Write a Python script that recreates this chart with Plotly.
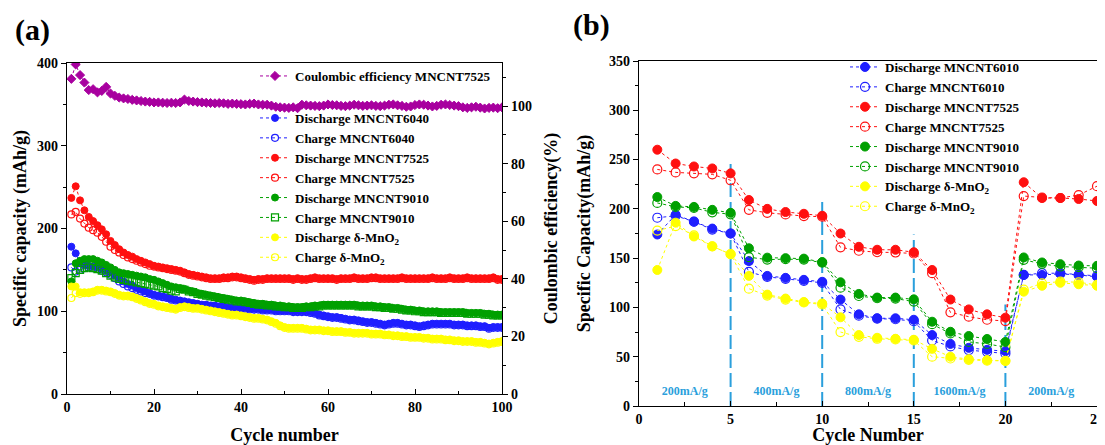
import plotly.graph_objects as go

# ---------------- Panel (a) data: 100 cycles ----------------
cycles_a = list(range(1, 101))

dis_6040 = [178,170,158,156,155,154,153,151,149,147,143,140,136,133,131,128,126,124,122,120,
            119,118,117,115,114,113,112,111,110,109,108,108,107,107,106,106,105,105,104,104,
            104,103,103,103,102,102,102,101,101,101,101,100,100,100,100,99,98,96,95,94,
            93,93,92,91,90,90,89,88,87,87,86,85,84,85,86,86,85,84,84,83,
            82,83,84,85,85,85,85,85,84,84,84,83,83,83,82,82,80,81,81,81]
chg_6040 = [153,148,150,152,153,152,151,149,147,144,140,136,133,130,128,126,124,122,121,119,
            118,117,116,114,113,112,111,110,109,108,107,107,106,106,105,105,104,104,103,103,
            103,102,102,102,101,101,101,100,100,100,100,99,99,99,99,98,97,95,94,93,
            92,92,91,90,89,89,88,87,86,86,85,84,83,84,85,85,84,83,83,82,
            81,82,83,84,84,84,84,84,83,83,83,82,82,82,81,81,79,80,80,80]
dis_7525 = [237,251,234,222,214,209,204,199,193,185,180,175,171,168,166,163,161,159,157,155,
            154,153,152,151,150,149,147,145,144,143,142,141,140,140,140,141,141,142,142,141,
            140,139,138,139,139,140,140,140,140,140,140,139,140,139,139,140,141,140,140,140,
            140,139,140,140,140,141,140,140,140,141,141,140,140,140,140,140,141,140,140,140,
            140,140,140,141,140,140,140,141,140,140,140,141,140,140,140,140,140,141,139,139]
chg_7525 = [217,220,212,206,201,198,195,190,184,178,174,171,168,165,163,161,159,157,155,154,
            153,152,151,150,149,148,146,144,143,142,141,140,139,139,139,140,140,141,141,140,
            139,138,137,138,138,139,139,139,139,139,139,138,139,138,138,139,140,139,139,139,
            139,138,139,139,139,140,139,139,139,140,140,139,139,139,139,139,140,139,139,139,
            139,139,139,140,139,139,139,140,139,139,139,140,139,139,139,139,139,140,138,138]
dis_9010 = [136,158,161,163,163,163,161,159,156,153,150,147,146,145,144,143,142,141,139,138,
            136,134,132,130,129,128,127,125,124,122,121,120,119,118,117,116,115,114,113,113,
            112,111,110,109,109,108,108,107,107,106,106,105,105,105,106,106,107,107,108,108,
            108,108,108,108,108,108,107,107,107,107,106,106,105,105,104,104,103,102,102,101,
            101,100,100,100,100,99,99,99,99,99,99,98,98,98,98,97,97,96,96,96]
chg_9010 = [140,146,150,152,153,152,151,149,146,143,141,139,138,137,136,135,134,133,132,131,
            130,128,127,125,124,127,126,124,123,121,120,119,118,117,116,115,114,113,112,112,
            111,110,109,108,108,107,107,106,106,105,105,104,104,104,105,105,106,106,107,107,
            107,107,107,107,107,107,106,106,106,106,105,105,104,104,103,103,102,101,101,100,
            100,99,99,99,99,98,98,98,98,98,98,97,97,97,97,96,96,95,95,95]
dis_mno2 = [130,130,123,123,123,124,126,126,125,124,122,120,119,119,118,116,114,112,110,109,
            107,106,105,104,103,105,106,105,104,104,103,102,101,100,99,98,97,96,96,95,
            94,93,92,92,91,90,88,86,83,81,80,80,80,80,79,78,78,78,77,77,
            76,76,76,75,75,74,74,74,74,73,73,73,72,72,71,71,70,70,69,69,
            69,68,68,67,67,67,66,66,65,65,64,64,64,63,63,62,61,62,63,64]
chg_mno2 = [116,122,121,122,122,123,125,125,124,123,121,119,118,118,117,115,113,111,109,108,
            106,105,104,103,102,104,105,104,103,103,102,101,100,99,98,97,96,95,95,94,
            93,92,91,91,90,89,87,85,82,80,79,79,79,79,78,77,77,77,76,76,
            75,75,75,74,74,73,73,73,73,72,72,72,71,71,70,70,69,69,68,68,
            68,67,67,66,66,66,65,65,64,64,63,63,63,62,62,61,60,61,62,63]
ce_7525 = [109.5,114.5,110.8,108.2,105.6,105.9,104.8,105.3,106.7,104.4,103.6,103.0,102.7,102.5,102.2,102.0,101.8,101.6,101.5,101.3,
           101.3,101.2,101.1,101.2,101.1,101.3,102.3,101.8,101.6,101.4,101.3,101.2,101.1,101.0,101.1,101.0,100.8,100.9,100.8,100.7,
           100.6,100.8,100.9,100.6,100.5,100.5,100.2,99.8,99.6,99.5,99.4,99.6,99.3,100.5,100.3,100.2,100.1,100.0,100.2,100.6,
           100.4,100.3,100.1,100.0,100.2,100.5,100.3,100.1,100.2,100.3,100.1,100.0,100.2,100.5,100.6,100.3,100.1,99.8,99.9,100.4,
           100.6,100.5,100.2,99.9,100.1,100.5,100.6,100.4,100.2,100.0,99.6,99.4,99.6,99.8,99.5,99.2,99.4,99.5,99.3,99.6]

# ---------------- Panel (b) data: rate test ----------------
cycles_b = list(range(1, 26))
b_dis_6010 = [174,194,187,180,175,147,132,130,128,126,108,93,89,89,87.5,72,63,59,57,55.6,133,133,134,133,131]
b_chg_6010 = [191,193,187,179,175,136,131,129,127,125,98,91.6,88.6,88,86,66.5,60.4,56.7,55,53.3,133,134.7,134.7,133,132]
b_dis_7525 = [260,246,243,241,236,209,200,196.8,195,193,175,161.5,158.5,158.5,156,138,108,98,93,89.6,227,211,211,210,208]
b_chg_7525 = [240,237,236,235,229,199,196,194.4,192.7,192,161,157.5,156,155.7,154.7,134.7,95,90.6,87.5,86.2,213,211.5,211,214,223]
b_dis_9010 = [212,203,202,199,196,160,150.5,150,149.5,146,125.5,113.7,110,110,108.2,85.5,75.3,71,68,65,150.7,145.6,143.9,142.5,142.2]
b_chg_9010 = [206,202,201,196.5,194.5,151,148.5,149,148.5,145.5,120,111.6,109.3,109,105.9,83,73.6,65,63,59.7,148.3,144.2,141.5,140.8,139.8]
b_dis_mno2 = [138,186,172,162,154,132,113,109,105.5,104,90,72,69.2,68.2,67.2,58,50,47.5,46.5,45.8,116,122,125,123.5,122]
b_chg_mno2 = [178,182.5,173,162,154,119,112,108,105,103,75,70.2,68.2,67.5,66.5,50,48.2,46.8,46,45.8,118,124.5,126.2,125.5,122.8]

rate_bounds = [5, 10, 15, 20]
rate_bound_tops = [248, 209, 174, 103]
rate_labels = ["200mA/g", "400mA/g", "800mA/g", "1600mA/g", "200mA/g"]
rate_label_x = [2.5, 7.5, 12.5, 17.5, 22.5]
rate_label_y = [14, 14, 14, 14, 14]

# ---------------- styling ----------------
FONT = "Liberation Serif"
BLUE, RED, GREEN, YELLOW, MAG = "#1f1fff", "#ff1010", "#00a000", "#ffff00", "#a8009f"
RATE_C = "#2a9fdc"

fig = go.Figure()

def add(x, y, name, color, filled, xa, ya, legend, size, symbol="circle"):
    if filled:
        mk = dict(symbol=symbol, size=size, color=color, line=dict(color=color, width=1))
    else:
        mk = dict(symbol=symbol + "-open", size=size, color=color, line=dict(width=1.2))
    fig.add_trace(go.Scatter(x=x, y=y, name=name, mode="lines+markers",
                             line=dict(color=color, width=1, dash="dot"),
                             marker=mk, xaxis=xa, yaxis=ya, legend=legend))

# panel (a)
add(cycles_a, ce_7525, "Coulombic efficiency MNCNT7525", MAG, True, "x", "y2", "legend", 7, "diamond")
add(cycles_a, dis_6040, "Discharge MNCNT6040", BLUE, True, "x", "y", "legend2", 7)
add(cycles_a, chg_6040, "Charge MNCNT6040", BLUE, False, "x", "y", "legend2", 7)
add(cycles_a, dis_7525, "Discharge MNCNT7525", RED, True, "x", "y", "legend2", 7)
add(cycles_a, chg_7525, "Charge MNCNT7525", RED, False, "x", "y", "legend2", 7)
add(cycles_a, dis_9010, "Discharge MNCNT9010", GREEN, True, "x", "y", "legend2", 7)
add(cycles_a, chg_9010, "Charge MNCNT9010", GREEN, False, "x", "y", "legend2", 7, "square")
add(cycles_a, dis_mno2, "Discharge δ-MnO<sub>2</sub>", YELLOW, True, "x", "y", "legend2", 7)
add(cycles_a, chg_mno2, "Charge δ-MnO<sub>2</sub>", YELLOW, False, "x", "y", "legend2", 7)

# panel (b) boundaries
for bx, top in zip(rate_bounds, rate_bound_tops):
    fig.add_trace(go.Scatter(x=[bx, bx], y=[0, top], mode="lines", showlegend=False,
                             line=dict(color=RATE_C, width=2, dash="14px,5px"),
                             xaxis="x2", yaxis="y3", hoverinfo="skip"))

add(cycles_b, b_dis_6010, "Discharge MNCNT6010", BLUE, True, "x2", "y3", "legend3", 9)
add(cycles_b, b_chg_6010, "Charge MNCNT6010", BLUE, False, "x2", "y3", "legend3", 9)
add(cycles_b, b_dis_7525, "Discharge MNCNT7525", RED, True, "x2", "y3", "legend3", 9)
add(cycles_b, b_chg_7525, "Charge MNCNT7525", RED, False, "x2", "y3", "legend3", 9)
add(cycles_b, b_dis_9010, "Discharge MNCNT9010", GREEN, True, "x2", "y3", "legend3", 9)
add(cycles_b, b_chg_9010, "Discharge MNCNT9010", GREEN, False, "x2", "y3", "legend3", 9)
add(cycles_b, b_dis_mno2, "Discharge δ-MnO<sub>2</sub>", YELLOW, True, "x2", "y3", "legend3", 9)
add(cycles_b, b_chg_mno2, "Charge δ-MnO<sub>2</sub>", YELLOW, False, "x2", "y3", "legend3", 9)

fig.add_trace(go.Scatter(x=rate_label_x, y=rate_label_y, text=rate_labels, mode="text",
                         textfont=dict(family=FONT, size=12, color=RATE_C, weight="bold"),
                         showlegend=False, xaxis="x2", yaxis="y3", hoverinfo="skip"))

# the page body has an 8px margin: figure is sized to fit the window, coordinates given in window pixels
OFF = 8
W, H = 1105 - OFF, 445 - OFF
def px_x(p): return (p - OFF) / W
def px_y(p): return 1 - (p - OFF) / H

tickfont = dict(family=FONT, size=14, color="black", weight="bold")
titlefont = dict(family=FONT, size=18, color="black", weight="bold")
axcommon = dict(showgrid=False, zeroline=False, showline=True, linecolor="black", linewidth=1.3,
                tickfont=tickfont, ticklen=5, tickwidth=1.2, tickcolor="black", automargin=False)

legfont = dict(family=FONT, size=13, color="black", weight="bold")

fig.update_layout(
    width=W, height=H, margin=dict(l=0, r=0, t=0, b=0, autoexpand=False),
    paper_bgcolor="white", plot_bgcolor="white", showlegend=True,
    xaxis=dict(domain=[px_x(67), px_x(502)], range=[0, 100], dtick=20, ticks="inside", mirror=True,
               minor=dict(dtick=10, ticks="inside", ticklen=3, tickcolor="black"),
               title=dict(text="Cycle number", font=titlefont, standoff=14), anchor="y", **axcommon),
    yaxis=dict(domain=[px_y(394), px_y(63)], range=[0, 400], dtick=100, ticks="outside",
               minor=dict(dtick=50, ticks="outside", ticklen=3, tickcolor="black"),
               title=dict(text="Specific capacity (mAh/g)", font=titlefont, standoff=5), anchor="x", **axcommon),
    yaxis2=dict(range=[0, 115], dtick=20, ticks="outside", overlaying="y", side="right", anchor="x",
                minor=dict(dtick=10, ticks="outside", ticklen=3, tickcolor="black"),
                title=dict(text="Coulombic efficiency(%)", font=titlefont, standoff=13), **axcommon),
    xaxis2=dict(domain=[px_x(639), px_x(1097)], range=[0, 25], dtick=5, ticks="inside", mirror=True,
                minor=dict(dtick=2.5, ticks="inside", ticklen=4, tickcolor="black"),
                title=dict(text="Cycle Number", font=titlefont, standoff=11), anchor="y3", **axcommon),
    yaxis3=dict(domain=[px_y(406), px_y(61)], range=[0, 350], dtick=50, ticks="outside", mirror=True,
                minor=dict(dtick=25, ticks="outside", ticklen=3, tickcolor="black"),
                title=dict(text="Specific Capacity(mAh/g)", font=titlefont, standoff=13), anchor="x2", **axcommon),
    legend=dict(x=px_x(255), y=px_y(61), xanchor="left", yanchor="top", font=legfont,
                bgcolor="rgba(0,0,0,0)", tracegroupgap=0),
    legend2=dict(x=px_x(255), y=px_y(103), xanchor="left", yanchor="top", font=legfont,
                 bgcolor="rgba(0,0,0,0)", tracegroupgap=0),
    legend3=dict(x=px_x(845), y=px_y(52), xanchor="left", yanchor="top", font=legfont,
                 bgcolor="rgba(0,0,0,0)", tracegroupgap=0),
    annotations=[
        dict(text="(a)", x=px_x(13), y=px_y(30), xref="paper", yref="paper", xanchor="left", yanchor="middle",
             showarrow=False, font=dict(family=FONT, size=30, color="black", weight="bold")),
        dict(text="(b)", x=px_x(571), y=px_y(25), xref="paper", yref="paper", xanchor="left", yanchor="middle",
             showarrow=False, font=dict(family=FONT, size=30, color="black", weight="bold")),
    ],
)

fig.write_html("out.html")
